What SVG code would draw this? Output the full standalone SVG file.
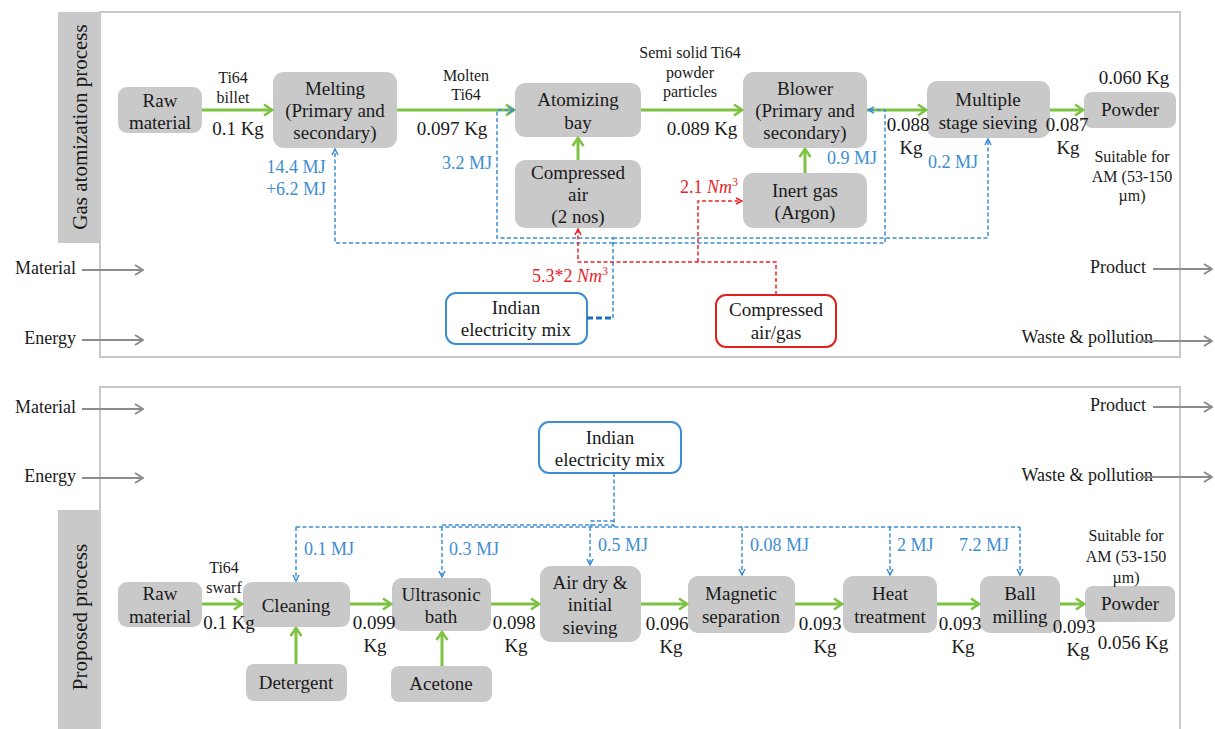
<svg xmlns="http://www.w3.org/2000/svg" width="1215" height="729" viewBox="0 0 1215 729" font-family="'Liberation Serif', 'DejaVu Serif', serif">
<style>
text{font-family:'Liberation Serif','DejaVu Serif',serif;fill:#1a1a1a}
.t{font-size:19px;text-anchor:middle}
.s{font-size:16px;text-anchor:middle}
.k{font-size:19px;text-anchor:middle}
.e{font-size:18px;fill:#3d8dd2;text-anchor:start}
.em{font-size:18px;fill:#3d8dd2;text-anchor:middle}
.r{font-size:18px;fill:#ea2328;text-anchor:end}
.side{font-size:18px}
.band{font-size:21px;text-anchor:middle}
.box{fill:#c9c9c9}
.frame{fill:none;stroke:#c9c9c9;stroke-width:2}
.g{fill:none;stroke:#7dc242;stroke-width:3;marker-end:url(#mg)}
.bl{fill:none;stroke:#3d8dd2;stroke-width:1.5;stroke-dasharray:4 2.5}
.bla{fill:none;stroke:#3d8dd2;stroke-width:1.5;stroke-dasharray:4 2.5;marker-end:url(#mb)}
.rd{fill:none;stroke:#ea2328;stroke-width:1.5;stroke-dasharray:4 2.5}
.rda{fill:none;stroke:#ea2328;stroke-width:1.5;stroke-dasharray:4 2.5;marker-end:url(#mr)}
.gr{fill:none;stroke:#8c8c8c;stroke-width:2;marker-end:url(#mgr)}
</style>
<defs>
<marker id="mg" viewBox="0 0 12 14" refX="10" refY="7" markerWidth="12" markerHeight="14" orient="auto" markerUnits="userSpaceOnUse"><path d="M2,1.5 L10,7 L2,12.5" fill="none" stroke="#7dc242" stroke-width="2.6"/></marker>
<marker id="mb" viewBox="0 0 8 8" refX="7" refY="4" markerWidth="8" markerHeight="8" orient="auto" markerUnits="userSpaceOnUse"><path d="M1,1 L7,4 L1,7" fill="none" stroke="#3d8dd2" stroke-width="1.5"/></marker>
<marker id="mr" viewBox="0 0 8 8" refX="7" refY="4" markerWidth="8" markerHeight="8" orient="auto" markerUnits="userSpaceOnUse"><path d="M1,1 L7,4 L1,7" fill="none" stroke="#ea2328" stroke-width="1.5"/></marker>
<marker id="mgr" viewBox="0 0 12 12" refX="11" refY="6" markerWidth="12" markerHeight="12" orient="auto" markerUnits="userSpaceOnUse"><path d="M3,1 L11,6 L3,11" fill="none" stroke="#8c8c8c" stroke-width="2"/></marker>
</defs>
<rect width="1215" height="729" fill="#ffffff"/>

<!-- Panels -->
<g id="panel-top">
<rect class="frame" x="100" y="12" width="1080" height="345"/>
<rect class="box" x="58" y="12" width="42" height="231"/>
<text class="band" transform="translate(87,127) rotate(-90)">Gas atomization process</text>
</g>
<g id="panel-bottom">
<rect class="frame" x="100" y="387" width="1080" height="370"/>
<rect class="box" x="58" y="510" width="42" height="230"/>
<text class="band" transform="translate(87,617) rotate(-90)">Proposed process</text>
</g>

<!-- Legend -->
<g id="legend">
<text class="side" x="76" y="274" text-anchor="end">Material</text>
<text class="side" x="76" y="344" text-anchor="end">Energy</text>
<text class="side" x="1146" y="273" text-anchor="end">Product</text>
<text class="side" x="1153" y="343" text-anchor="end">Waste &amp; pollution</text>
<text class="side" x="76" y="413" text-anchor="end">Material</text>
<text class="side" x="76" y="482" text-anchor="end">Energy</text>
<text class="side" x="1146" y="411" text-anchor="end">Product</text>
<text class="side" x="1153" y="481" text-anchor="end">Waste &amp; pollution</text>
</g>

<!-- Top nodes -->
<g id="ga-raw"><rect class="box" x="118" y="87" width="84" height="46" rx="9"/><text class="t" x="160" y="107">Raw</text><text class="t" x="160" y="129">material</text></g>
<g id="ga-melting"><rect class="box" x="273" y="72" width="124" height="76" rx="11"/><text class="t" x="335" y="95">Melting</text><text class="t" x="335" y="117">(Primary and</text><text class="t" x="335" y="139">secondary)</text></g>
<g id="ga-atomizing"><rect class="box" x="515" y="83" width="126" height="54" rx="10"/><text class="t" x="578" y="106">Atomizing</text><text class="t" x="578" y="129">bay</text></g>
<g id="ga-compressed"><rect class="box" x="515" y="160" width="126" height="68" rx="10"/><text class="t" x="578" y="179">Compressed</text><text class="t" x="578" y="201">air</text><text class="t" x="578" y="223">(2 nos)</text></g>
<g id="ga-blower"><rect class="box" x="743" y="72" width="124" height="76" rx="11"/><text class="t" x="805" y="95">Blower</text><text class="t" x="805" y="117">(Primary and</text><text class="t" x="805" y="139">secondary)</text></g>
<g id="ga-inert"><rect class="box" x="743" y="173" width="124" height="55" rx="10"/><text class="t" x="805" y="197">Inert gas</text><text class="t" x="805" y="219">(Argon)</text></g>
<g id="ga-sieving"><rect class="box" x="927" y="81" width="123" height="57" rx="10"/><text class="t" x="988" y="106">Multiple</text><text class="t" x="988" y="129">stage sieving</text></g>
<g id="ga-powder"><rect class="box" x="1084" y="92" width="92" height="36" rx="8"/><text class="t" x="1130" y="116">Powder</text></g>
<g id="ga-electricity"><rect x="446" y="293" width="141" height="51" rx="10" fill="#fff" stroke="#3d8dd2" stroke-width="2"/><text class="t" x="516" y="314">Indian</text><text class="t" x="516" y="336">electricity mix</text></g>
<g id="ga-compgas"><rect x="716" y="295" width="120" height="52" rx="10" fill="#fff" stroke="#e3201b" stroke-width="2"/><text class="t" x="776" y="316">Compressed</text><text class="t" x="776" y="339">air/gas</text></g>

<!-- Bottom nodes -->
<g id="pp-raw"><rect class="box" x="118" y="582" width="84" height="45" rx="9"/><text class="t" x="160" y="600">Raw</text><text class="t" x="160" y="623">material</text></g>
<g id="pp-cleaning"><rect class="box" x="243" y="582" width="107" height="45" rx="9"/><text class="t" x="296" y="612">Cleaning</text></g>
<g id="pp-detergent"><rect class="box" x="246" y="664" width="101" height="37" rx="8"/><text class="t" x="296" y="689">Detergent</text></g>
<g id="pp-ultrasonic"><rect class="box" x="392" y="578" width="99" height="53" rx="10"/><text class="t" x="441" y="601">Ultrasonic</text><text class="t" x="441" y="623">bath</text></g>
<g id="pp-acetone"><rect class="box" x="391" y="666" width="101" height="36" rx="8"/><text class="t" x="441" y="690">Acetone</text></g>
<g id="pp-airdry"><rect class="box" x="540" y="566" width="101" height="76" rx="11"/><text class="t" x="590" y="589">Air dry &amp;</text><text class="t" x="590" y="611">initial</text><text class="t" x="590" y="634">sieving</text></g>
<g id="pp-magnetic"><rect class="box" x="688" y="576" width="107" height="57" rx="10"/><text class="t" x="741" y="600">Magnetic</text><text class="t" x="741" y="623">separation</text></g>
<g id="pp-heat"><rect class="box" x="843" y="576" width="94" height="57" rx="10"/><text class="t" x="890" y="600">Heat</text><text class="t" x="890" y="623">treatment</text></g>
<g id="pp-ball"><rect class="box" x="980" y="576" width="80" height="57" rx="10"/><text class="t" x="1020" y="600">Ball</text><text class="t" x="1020" y="623">milling</text></g>
<g id="pp-powder"><rect class="box" x="1085" y="586" width="90" height="36" rx="8"/><text class="t" x="1130" y="610">Powder</text></g>
<g id="pp-electricity"><rect x="539" y="422" width="142" height="51" rx="10" fill="#fff" stroke="#3d8dd2" stroke-width="2"/><text class="t" x="610" y="444">Indian</text><text class="t" x="610" y="466">electricity mix</text></g>

<!-- Connectors -->
<g id="connectors">
<path class="gr" d="M82,270 H143"/>
<path class="gr" d="M82,340 H143"/>
<path class="gr" d="M1153,269 H1212"/>
<path class="gr" d="M1140,341 H1212"/>
<path class="gr" d="M82,409 H143"/>
<path class="gr" d="M82,478 H143"/>
<path class="gr" d="M1153,407 H1212"/>
<path class="gr" d="M1140,477 H1212"/>
<path class="g" d="M202,110 H272"/>
<path class="g" d="M397,110 H514"/>
<path class="g" d="M641,110 H742"/>
<path class="g" d="M867,110 H926"/>
<path class="g" d="M1050,110 H1083"/>
<path class="g" d="M578,160 V138"/>
<path class="g" d="M805,173 V149"/>
<path d="M587,318 H613" fill="none" stroke="#1f6fc0" stroke-width="3" stroke-dasharray="6 3"/>
<path class="bla" d="M613,318 V238 H497 V110 H514"/>
<path class="bla" d="M613,243 H335 V149"/>
<path class="bla" d="M613,243 H885 V110 H868"/>
<path class="bla" d="M613,238 H988 V139"/>
<path class="rda" d="M776,295 V262 H578 V229"/>
<path class="rda" d="M698,262 V201 H742"/>
<path class="g" d="M202,604 H242"/>
<path class="g" d="M350,604 H391"/>
<path class="g" d="M491,604 H539"/>
<path class="g" d="M641,604 H687"/>
<path class="g" d="M795,604 H842"/>
<path class="g" d="M937,604 H979"/>
<path class="g" d="M1060,604 H1084"/>
<path class="g" d="M296,664 V628"/>
<path class="g" d="M442,666 V632"/>
<path class="bl" d="M614,473 V527"/>
<path class="bl" d="M614,521 H591 V527"/>
<path class="bl" d="M296,527 H1020"/>
<path class="bl" d="M442,525 H614"/>
<path class="bla" d="M296,527 V581"/>
<path class="bla" d="M442,527 V577"/>
<path class="bla" d="M590,527 V565"/>
<path class="bla" d="M742,527 V575"/>
<path class="bla" d="M890,527 V575"/>
<path class="bla" d="M1020,527 V575"/>
</g>

<!-- Labels -->
<g id="labels-top">
<text class="s" x="233" y="83">Ti64</text>
<text class="s" x="233" y="103">billet</text>
<text class="k" x="238" y="135">0.1 Kg</text>
<text class="s" x="466" y="81">Molten</text>
<text class="s" x="466" y="100">Ti64</text>
<text class="k" x="452" y="135">0.097 Kg</text>
<text class="em" x="296" y="173">14.4 MJ</text>
<text class="em" x="296" y="195">+6.2 MJ</text>
<text class="em" x="467" y="169">3.2 MJ</text>
<text class="s" x="690" y="58">Semi solid Ti64</text>
<text class="s" x="690" y="78">powder</text>
<text class="s" x="690" y="97">particles</text>
<text class="k" x="702" y="135">0.089 Kg</text>
<text class="r" x="738" y="193">2.1 <tspan font-style="italic">Nm</tspan><tspan font-size="12" dy="-7">3</tspan></text>
<text class="r" x="608" y="282">5.3*2 <tspan font-style="italic">Nm</tspan><tspan font-size="12" dy="-7">3</tspan></text>
<text class="em" x="852" y="164">0.9 MJ</text>
<text class="k" x="908" y="131">0.088</text>
<text class="k" x="911" y="154">Kg</text>
<text class="em" x="953" y="168">0.2 MJ</text>
<text class="k" x="1067" y="131">0.087</text>
<text class="k" x="1068" y="154">Kg</text>
<text class="k" x="1134" y="84">0.060 Kg</text>
<text class="s" x="1132" y="162">Suitable for</text>
<text class="s" x="1132" y="182">AM (53-150</text>
<text class="s" x="1132" y="201">µm)</text>
</g>
<g id="labels-bottom">
<text class="s" x="224" y="573">Ti64</text>
<text class="s" x="224" y="593">swarf</text>
<text class="k" x="229" y="629">0.1 Kg</text>
<text class="e" x="304" y="555">0.1 MJ</text>
<text class="e" x="449" y="555">0.3 MJ</text>
<text class="e" x="598" y="551">0.5 MJ</text>
<text class="e" x="750" y="551">0.08 MJ</text>
<text class="e" x="897" y="551">2 MJ</text>
<text class="e" x="959" y="551">7.2 MJ</text>
<text class="k" x="374" y="629">0.099</text>
<text class="k" x="375" y="652">Kg</text>
<text class="k" x="514" y="629">0.098</text>
<text class="k" x="516" y="652">Kg</text>
<text class="k" x="667" y="630">0.096</text>
<text class="k" x="671" y="653">Kg</text>
<text class="k" x="820" y="630">0.093</text>
<text class="k" x="825" y="653">Kg</text>
<text class="k" x="960" y="630">0.093</text>
<text class="k" x="963" y="653">Kg</text>
<text class="k" x="1074" y="633">0.093</text>
<text class="k" x="1078" y="656">Kg</text>
<text class="k" x="1133" y="649">0.056 Kg</text>
<text class="s" x="1126" y="541">Suitable for</text>
<text class="s" x="1126" y="562">AM (53-150</text>
<text class="s" x="1126" y="583">µm)</text>
</g>
</svg>
